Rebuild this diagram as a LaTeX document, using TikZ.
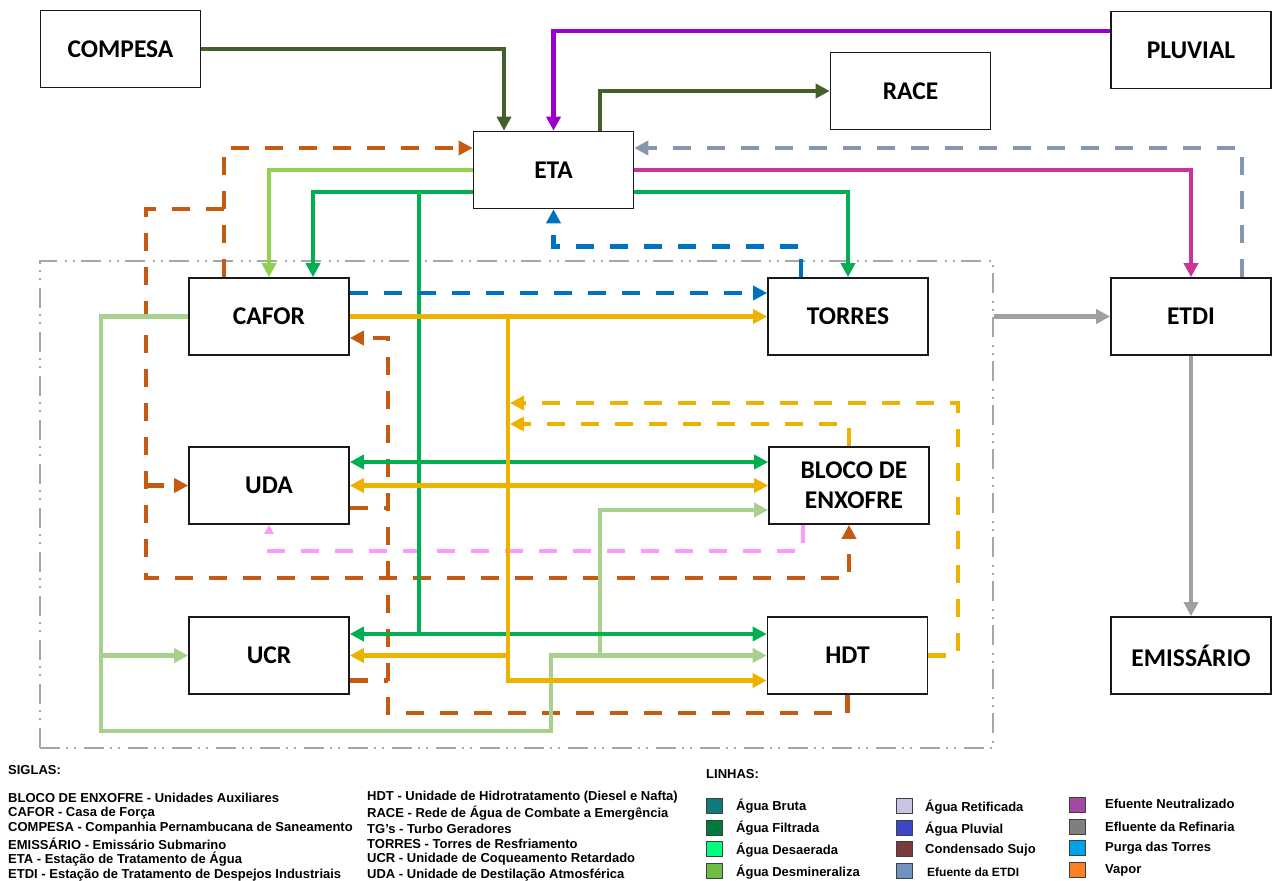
\documentclass[tikz,border=0pt]{standalone}
\usepackage{fontspec}
\setmainfont{Liberation Sans}
\newfontfamily\boxfont{Carlito}
\usetikzlibrary{arrows.meta,calc}
\definecolor{cOlive}{HTML}{41602A}
\definecolor{cPurple}{HTML}{9900CC}
\definecolor{cLime}{HTML}{92D050}
\definecolor{cGreen}{HTML}{00B050}
\definecolor{cMag}{HTML}{CC3399}
\definecolor{cSteel}{HTML}{8497B0}
\definecolor{cBlue}{HTML}{0070C0}
\definecolor{cYel}{HTML}{EDB100}
\definecolor{cPink}{HTML}{FF99FF}
\definecolor{cPale}{HTML}{A9D18E}
\definecolor{cOra}{HTML}{C55A11}
\definecolor{cGrey}{HTML}{A0A0A0}
\definecolor{cBound}{HTML}{A6A6A6}
\definecolor{sBruta}{HTML}{0E7C7B}
\definecolor{sFiltr}{HTML}{007A3D}
\definecolor{sDesae}{HTML}{00FF7F}
\definecolor{sDesmi}{HTML}{6DBE45}
\definecolor{sRetif}{HTML}{CBC3E3}
\definecolor{sPluv}{HTML}{3C46C8}
\definecolor{sCond}{HTML}{7B3B3B}
\definecolor{sEtdi}{HTML}{7191BF}
\definecolor{sNeut}{HTML}{A349A4}
\definecolor{sRef}{HTML}{7F7F7F}
\definecolor{sPurga}{HTML}{00A2E8}
\definecolor{sVapor}{HTML}{FF7F27}
\begin{document}
\begin{tikzpicture}[x=1pt,y=-1pt,
  box/.style={draw=black!90, line width=1.6pt, fill=white, minimum width=160pt, minimum height=77pt, inner sep=0pt, align=center, font=\boxfont\bfseries\fontsize{25.5}{30}\selectfont},
  flow/.style={line width=4.4pt},
  tip/.style={-{Triangle[length=14pt,width=14pt]}},
  dtip/.style={{Triangle[length=14pt,width=14pt]}-{Triangle[length=14pt,width=14pt]}},
  ptip/.style={-{Triangle[length=9pt,width=9pt]}},
  dsh/.style={dash pattern=on 18pt off 16pt},
  legtext/.style={anchor=west, inner sep=0pt, font=\bfseries\fontsize{13}{15}\selectfont},
  swatch/.style={draw=black!75, line width=1pt, minimum width=16pt, minimum height=15pt, inner sep=0pt}
]
\useasboundingbox (0,0) rectangle (1272,881);
% plant area boundary
\node[draw=cBound, line width=1.8pt, dash pattern=on 20pt off 6pt on 2pt off 6pt on 2pt off 8pt, minimum width=953pt, minimum height=487pt, inner sep=0pt] (area) at (516.5,504.5) {};
% boxes
\node[box] (compesa) at (120.5,49) {COMPESA};
\node[box] (pluvial) at (1191,50) {PLUVIAL};
\node[box] (race) at (910.5,91) {RACE};
\node[box] (eta) at (553.5,170) {ETA};
\node[box] (cafor) at (269,316.5) {CAFOR};
\node[box] (torres) at (848,316.5) {TORRES};
\node[box] (etdi) at (1191,316.5) {ETDI};
\node[box] (uda) at (269,485.5) {UDA};
\node[box] (bloco) at (849,485.5) {\hspace*{10pt}BLOCO DE\\\hspace*{10pt}ENXOFRE};
\node[box] (ucr) at (269,655.5) {UCR};
\node[box] (hdt) at (847.5,655.5) {HDT};
\node[box] (emiss) at (1191,655.5) {EMISSÁRIO};
% junction coordinates
\coordinate (jO1) at (224,209);
\coordinate (oC) at (146,578);
\coordinate (jO2) at (146,485.5);
\coordinate (jO3) at (388,508);
\coordinate (jO4) at (388,680.5);
\coordinate (oD) at (388,713);
\coordinate (oE) at (388,338);
\coordinate (jG) at (419,192);
\coordinate (jG2) at (419,634);
\coordinate (jY) at (508,316.5);
\coordinate (jY1) at (508,655.5);
\coordinate (jY2) at (510,403);
\coordinate (jY3) at (510,424);
\coordinate (cY4) at (958,403);
\coordinate (pA) at (101,731);
\coordinate (pB) at (551,731);
\coordinate (pC) at (101,655.5);
\coordinate (pD) at (600,655.5);
% orange dashed (left loop)
\draw[flow,dsh,tip,cOra] ($(cafor.north)+(-45,0)$) |- ($(eta.west)+(0,-22)$);
\draw[flow,dsh,tip,cOra] (jO1) -| (oC) -| (bloco.south);
\draw[flow,dsh,tip,cOra] (jO2) -- (uda.west);
% orange dashed (right loop)
\draw[flow,dsh,tip,cOra] (hdt.south) |- (oD) -- (oE) -- ($(cafor.east)+(0,21.5)$);
\draw[flow,dsh,cOra] ($(uda.east)+(0,22.5)$) -- (jO3);
\draw[flow,dsh,cOra] ($(ucr.east)+(0,25)$) -- (jO4);
% pink dashed
\draw[flow,dsh,ptip,cPink] ($(bloco.south)+(-46,0)$) |- ($(uda.south)+(0,26)$) -- (uda.south);
% pale green
\draw[flow,tip,cPale] (cafor.west) -| (pA) -- (pB) |- (hdt.west);
\draw[flow,tip,cPale] (pC) -- (ucr.west);
\draw[flow,tip,cPale] (pD) |- ($(bloco.west)+(0,24.5)$);
% olive
\draw[flow,tip,cOlive] (compesa.east) -| ($(eta.north)+(-49.5,0)$);
\draw[flow,tip,cOlive] ($(eta.north)+(46.5,0)$) |- (race.west);
% purple
\draw[flow,tip,cPurple] ($(pluvial.west)+(0,-19)$) -| (eta.north);
% lime
\draw[flow,tip,cLime] (eta.west) -| (cafor.north);
% green
\draw[flow,tip,cGreen] ($(eta.west)+(0,22)$) -| ($(cafor.north)+(44,0)$);
\draw[flow,cGreen] (jG) -- (jG2);
\draw[flow,dtip,cGreen] ($(uda.east)+(0,-23.5)$) -- ($(bloco.west)+(0,-23.5)$);
\draw[flow,dtip,cGreen] ($(ucr.east)+(0,-21.5)$) -- ($(hdt.west)+(0,-21.5)$);
\draw[flow,tip,cGreen] ($(eta.east)+(0,22)$) -| (torres.north);
% magenta
\draw[flow,tip,cMag] (eta.east) -| (etdi.north);
% steel dashed
\draw[flow,dsh,tip,cSteel] ($(etdi.north)+(51,0)$) |- ($(eta.east)+(0,-22)$);
% blue dashed
\draw[flow,dsh,tip,cBlue] ($(torres.north)+(-47,0)$) |- ($(eta.south)+(0,37)$) -- (eta.south);
\draw[flow,dsh,tip,cBlue] ($(cafor.east)+(0,-23.5)$) -- ($(torres.west)+(0,-23.5)$);
% yellow
\draw[flow,tip,cYel] (cafor.east) -- (torres.west);
\draw[flow,tip,cYel] (jY) |- ($(hdt.west)+(0,25)$);
\draw[flow,tip,cYel] (jY1) -- (ucr.east);
\draw[flow,dtip,cYel] (uda.east) -- (bloco.west);
\draw[flow,dsh,tip,cYel] (bloco.north) |- (jY3);
\draw[flow,dsh,tip,cYel] (hdt.east) -| (cY4) -- (jY2);
% grey
\draw[flow,tip,cGrey] (area.east |- torres.east) -- (etdi.west);
\draw[flow,tip,cGrey] (etdi.south) -- (emiss.north);
% legend: siglas
\node[legtext] (sig) at (8,770) {SIGLAS:};
\node[legtext] (s1) at (8,797.5) {BLOCO DE ENXOFRE - Unidades Auxiliares};
\node[legtext] (s2) at (8,813) {CAFOR - Casa de Força};
\node[legtext] (s3) at (8,828.5) {COMPESA - Companhia Pernambucana de Saneamento};
\node[legtext] (s4) at (8,844) {EMISSÁRIO - Emissário Submarino};
\node[legtext] (s5) at (8,859.5) {ETA - Estação de Tratamento de Água};
\node[legtext] (s6) at (8,875) {ETDI - Estação de Tratamento de Despejos Industriais};
\node[legtext] (t1) at (367,797.5) {HDT - Unidade de Hidrotratamento (Diesel e Nafta)};
\node[legtext] (t2) at (367,813) {RACE - Rede de Água de Combate a Emergência};
\node[legtext] (t3) at (367,828.5) {TG's - Turbo Geradores};
\node[legtext] (t4) at (367,844) {TORRES - Torres de Resfriamento};
\node[legtext] (t5) at (367,859.5) {UCR - Unidade de Coqueamento Retardado};
\node[legtext] (t6) at (367,875) {UDA - Unidade de Destilação Atmosférica};
% legend: linhas
\node[legtext] (lin) at (706,774) {LINHAS:};
\node[swatch, fill=sBruta] (w1) at (714,806) {};
\node[swatch, fill=sFiltr] (w2) at (714,827.5) {};
\node[swatch, fill=sDesae] (w3) at (714,849) {};
\node[swatch, fill=sDesmi] (w4) at (714,871) {};
\node[legtext] (l1) at (736,806) {Água Bruta};
\node[legtext] (l2) at (736,828) {Água Filtrada};
\node[legtext] (l3) at (736,850) {Água Desaerada};
\node[legtext] (l4) at (736,872) {Água Desmineraliza};
\node[swatch, fill=sRetif] (w5) at (904,806) {};
\node[swatch, fill=sPluv] (w6) at (904,827.5) {};
\node[swatch, fill=sCond] (w7) at (904,849) {};
\node[swatch, fill=sEtdi] (w8) at (904,871) {};
\node[legtext] (l5) at (925,807.5) {Água Retificada};
\node[legtext] (l6) at (925,829) {Água Pluvial};
\node[legtext] (l7) at (925,850) {Condensado Sujo};
\node[legtext, font=\bfseries\fontsize{12}{14}\selectfont] (l8) at (927,872) {Efuente da ETDI};
\node[swatch, fill=sNeut] (w9) at (1077,805) {};
\node[swatch, fill=sRef] (w10) at (1077,826.5) {};
\node[swatch, fill=sPurga] (w11) at (1077,848) {};
\node[swatch, fill=sVapor] (w12) at (1077,870) {};
\node[legtext] (l9) at (1105,804) {Efuente Neutralizado};
\node[legtext] (l10) at (1105,827) {Efluente da Refinaria};
\node[legtext] (l11) at (1105,848.5) {Purga das Torres};
\node[legtext] (l12) at (1105,870.5) {Vapor};
\end{tikzpicture}
\end{document}
